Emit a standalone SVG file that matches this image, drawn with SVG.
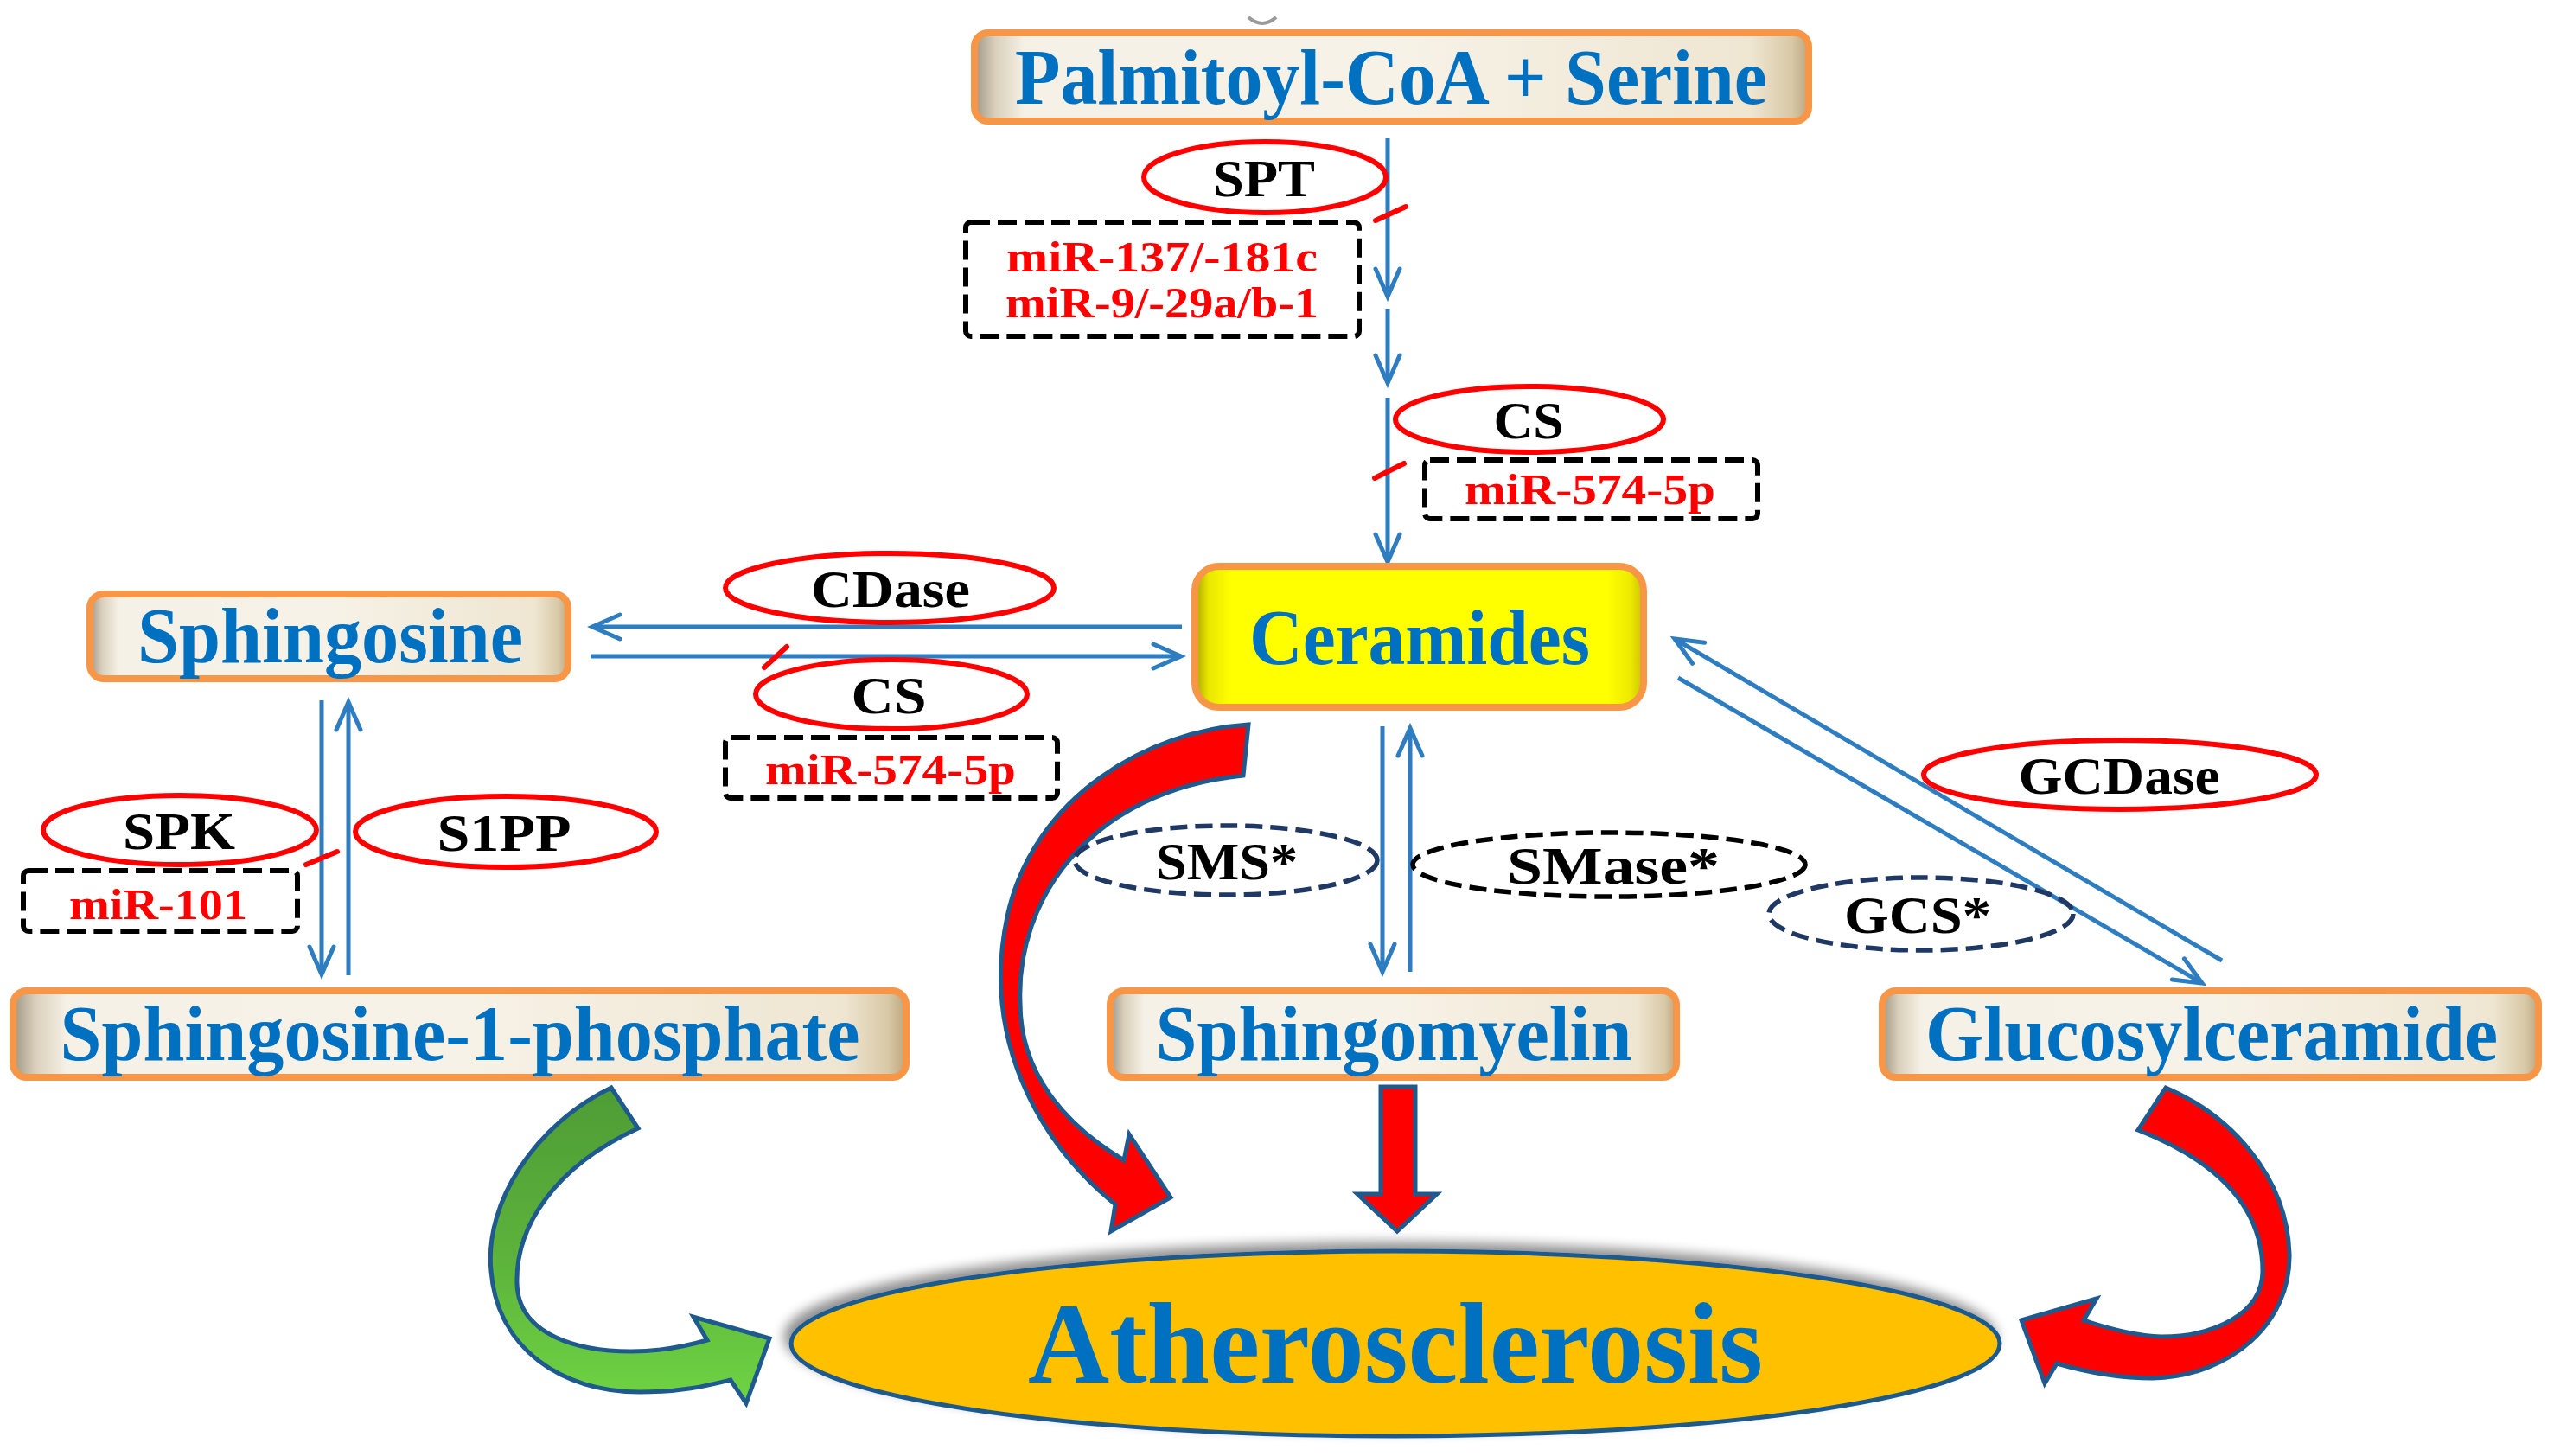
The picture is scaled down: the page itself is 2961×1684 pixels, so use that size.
<svg xmlns="http://www.w3.org/2000/svg" width="2961" height="1684" viewBox="0 0 2961 1684">
<defs>
<style>
.nt{font-family:"Liberation Serif","Times New Roman",serif;font-weight:bold;fill:#0070C0;text-anchor:middle;font-size:90px}
.et{font-family:"Liberation Serif","Times New Roman",serif;font-weight:bold;fill:#000;text-anchor:middle;font-size:62px}
.mt{font-family:"Liberation Serif","Times New Roman",serif;font-weight:bold;fill:#FF0000;text-anchor:middle;font-size:50px}
.box{fill:url(#tan);stroke:#F79646;stroke-width:8}
.enz{fill:none;stroke:#FF0000;stroke-width:6}
.dbox{fill:none;stroke:#000;stroke-width:6;stroke-dasharray:22 9}
.dell{fill:none;stroke-width:5.5;stroke-dasharray:20 9}
.navy{stroke:#1F3864}
.blk{stroke:#000}
.ln{fill:none;stroke:#2E7DC0;stroke-width:5}
.inh{stroke:#FF0000;stroke-width:6;stroke-linecap:round}
.big{stroke:#1F5A8E;stroke-width:5;stroke-linejoin:miter}
</style>
<linearGradient id="tan" x1="0" y1="0" x2="1" y2="0">
<stop offset="0" stop-color="#9E9684"/>
<stop offset="0.025" stop-color="#D9CFBB"/>
<stop offset="0.06" stop-color="#F6F1E6"/>
<stop offset="0.5" stop-color="#F7F2E7"/>
<stop offset="0.93" stop-color="#EFE6D2"/>
<stop offset="0.98" stop-color="#D8C8A6"/>
<stop offset="1" stop-color="#BCA57E"/>
</linearGradient>
<linearGradient id="yel" x1="0" y1="0" x2="1" y2="0">
<stop offset="0" stop-color="#A8A200"/>
<stop offset="0.03" stop-color="#E9E600"/>
<stop offset="0.08" stop-color="#FFFF00"/>
<stop offset="0.92" stop-color="#FFFF00"/>
<stop offset="0.97" stop-color="#EEEA00"/>
<stop offset="1" stop-color="#C8C000"/>
</linearGradient>
<linearGradient id="grn" x1="0" y1="0" x2="0" y2="1">
<stop offset="0" stop-color="#4E9C36"/>
<stop offset="0.55" stop-color="#5DB33B"/>
<stop offset="1" stop-color="#6FD443"/>
</linearGradient>
<filter id="sh" x="-5%" y="-20%" width="110%" height="140%">
<feGaussianBlur in="SourceAlpha" stdDeviation="7"/>
<feOffset dx="-6" dy="-8" result="b"/>
<feComponentTransfer><feFuncA type="linear" slope="0.45"/></feComponentTransfer>
<feMerge><feMergeNode/><feMergeNode in="SourceGraphic"/></feMerge>
</filter>
<marker id="ah" markerUnits="userSpaceOnUse" markerWidth="46" markerHeight="46" viewBox="-40 -23 46 46" refX="0" refY="0" orient="auto">
<path d="M-32,-14 L0,0 L-32,14" fill="none" stroke="#2E7DC0" stroke-width="5" stroke-linecap="round" stroke-linejoin="miter"/>
</marker>
</defs>
<rect width="2961" height="1684" fill="#FFFFFF"/>
<path d="M1444,20 Q1460,34 1476,20" fill="none" stroke="#9A9A9A" stroke-width="4"/>

<g id="connectors">
<line class="ln" x1="1605" y1="160" x2="1605" y2="343" marker-end="url(#ah)"/>
<line class="ln" x1="1605" y1="357" x2="1605" y2="443" marker-end="url(#ah)"/>
<line class="ln" x1="1605" y1="460" x2="1605" y2="650" marker-end="url(#ah)"/>
<line class="ln" x1="1367" y1="725" x2="685" y2="725" marker-end="url(#ah)"/>
<line class="ln" x1="683" y1="759" x2="1366" y2="759" marker-end="url(#ah)"/>
<line class="ln" x1="372" y1="810" x2="372" y2="1127" marker-end="url(#ah)"/>
<line class="ln" x1="403" y1="1128" x2="403" y2="812" marker-end="url(#ah)"/>
<line class="ln" x1="1599" y1="840" x2="1599" y2="1124" marker-end="url(#ah)"/>
<line class="ln" x1="1631" y1="1124" x2="1631" y2="842" marker-end="url(#ah)"/>
<line class="ln" x1="2570" y1="1111" x2="1937" y2="739" marker-end="url(#ah)"/>
<line class="ln" x1="1941" y1="784" x2="2547" y2="1137" marker-end="url(#ah)"/>
<line class="inh" x1="1591" y1="255" x2="1626" y2="239"/>
<line class="inh" x1="1590" y1="553" x2="1624" y2="536"/>
<line class="inh" x1="884" y1="772" x2="910" y2="748"/>
<line class="inh" x1="354" y1="1000" x2="390" y2="985"/>
<path class="big" fill="#FF0000" d="M1444,838 C1330,845 1195,920 1165,1060 C1135,1200 1200,1320 1290,1393 L1285,1424 L1354,1385 L1306,1312 L1300,1342 C1230,1300 1180,1240 1180,1160 C1175,1040 1260,915 1438,897 Z"/>
<path class="big" fill="#FF0000" d="M1597,1257 L1637,1257 L1637,1381 L1662,1381 L1616,1424 L1570,1381 L1597,1381 Z"/>
<path class="big" fill="url(#grn)" d="M707,1258 C620,1300 560,1390 568,1470 C575,1560 650,1610 740,1610 C790,1610 820,1602 845,1596 L863,1623 L890,1548 L802,1523 L818,1550 C790,1558 760,1563 730,1563 C670,1563 600,1545 598,1485 C596,1420 640,1350 738,1305 Z"/>
<path class="big" fill="#FF0000" d="M2505,1258 C2580,1290 2645,1360 2648,1450 C2650,1530 2580,1592 2490,1594 C2450,1594 2410,1586 2379,1577 L2365,1600 L2338,1527 L2425,1502 L2410,1527 C2440,1537 2470,1545 2500,1546 C2560,1546 2617,1520 2617,1470 C2617,1400 2570,1345 2473,1307 Z"/>
</g>

<g id="palmitoyl">
<rect class="box" x="1127" y="38" width="965" height="102" rx="16"/>
<text class="nt" x="1609" y="120" textLength="870" lengthAdjust="spacingAndGlyphs">Palmitoyl-CoA + Serine</text>
</g>
<g id="sphingosine">
<rect class="box" x="104" y="687" width="553" height="98" rx="16"/>
<text class="nt" x="382" y="766" textLength="446" lengthAdjust="spacingAndGlyphs">Sphingosine</text>
</g>
<g id="ceramides">
<rect x="1382" y="655" width="519" height="163" rx="28" fill="url(#yel)" stroke="#F79646" stroke-width="8"/>
<text class="nt" x="1642" y="768" textLength="394" lengthAdjust="spacingAndGlyphs">Ceramides</text>
</g>
<g id="s1p">
<rect class="box" x="15" y="1146" width="1033" height="100" rx="16"/>
<text class="nt" x="532" y="1226" textLength="925" lengthAdjust="spacingAndGlyphs">Sphingosine-1-phosphate</text>
</g>
<g id="sphingomyelin">
<rect class="box" x="1284" y="1146" width="655" height="100" rx="16"/>
<text class="nt" x="1612" y="1226" textLength="551" lengthAdjust="spacingAndGlyphs">Sphingomyelin</text>
</g>
<g id="glucosylceramide">
<rect class="box" x="2177" y="1146" width="759" height="100" rx="16"/>
<text class="nt" x="2558" y="1226" textLength="662" lengthAdjust="spacingAndGlyphs">Glucosylceramide</text>
</g>
<g id="atherosclerosis">
<ellipse cx="1614" cy="1554" rx="699" ry="107" fill="#FFC000" stroke="#1F5A8E" stroke-width="5" filter="url(#sh)"/>
<text class="nt" x="1614" y="1599" style="font-size:134px" textLength="850" lengthAdjust="spacingAndGlyphs">Atherosclerosis</text>
</g>

<g id="spt">
<ellipse class="enz" cx="1463" cy="205" rx="140" ry="41"/>
<text class="et" x="1462" y="227" textLength="118" lengthAdjust="spacingAndGlyphs">SPT</text>
</g>
<g id="mir-spt">
<rect class="dbox" x="1117" y="257" width="455" height="132" rx="6"/>
<text class="mt" x="1344" y="314" textLength="360" lengthAdjust="spacingAndGlyphs">miR-137/-181c</text>
<text class="mt" x="1344" y="367" textLength="362" lengthAdjust="spacingAndGlyphs">miR-9/-29a/b-1</text>
</g>
<g id="cs-top">
<ellipse class="enz" cx="1769" cy="485" rx="155" ry="38"/>
<text class="et" x="1768" y="507" textLength="81" lengthAdjust="spacingAndGlyphs">CS</text>
</g>
<g id="mir-cs-top">
<rect class="dbox" x="1648" y="532" width="385" height="68" rx="6"/>
<text class="mt" x="1839" y="583" textLength="290" lengthAdjust="spacingAndGlyphs">miR-574-5p</text>
</g>
<g id="cdase">
<ellipse class="enz" cx="1029" cy="680" rx="190" ry="40"/>
<text class="et" x="1030" y="702" textLength="184" lengthAdjust="spacingAndGlyphs">CDase</text>
</g>
<g id="cs-left">
<ellipse class="enz" cx="1031" cy="803" rx="157" ry="40"/>
<text class="et" x="1028" y="825" textLength="87" lengthAdjust="spacingAndGlyphs">CS</text>
</g>
<g id="mir-cs-left">
<rect class="dbox" x="839" y="853" width="384" height="70" rx="6"/>
<text class="mt" x="1030" y="907" textLength="290" lengthAdjust="spacingAndGlyphs">miR-574-5p</text>
</g>
<g id="spk">
<ellipse class="enz" cx="208" cy="960" rx="158" ry="40"/>
<text class="et" x="207" y="982" textLength="130" lengthAdjust="spacingAndGlyphs">SPK</text>
</g>
<g id="s1pp">
<ellipse class="enz" cx="585" cy="962" rx="174" ry="41"/>
<text class="et" x="583" y="984" textLength="155" lengthAdjust="spacingAndGlyphs">S1PP</text>
</g>
<g id="mir-spk">
<rect class="dbox" x="27" y="1007" width="317" height="70" rx="6"/>
<text class="mt" x="183" y="1063" textLength="206" lengthAdjust="spacingAndGlyphs">miR-101</text>
</g>
<g id="sms">
<ellipse class="dell navy" cx="1418" cy="995" rx="175" ry="40"/>
<text class="et" x="1419" y="1017" textLength="164" lengthAdjust="spacingAndGlyphs">SMS*</text>
</g>
<g id="smase">
<ellipse class="dell blk" cx="1861" cy="1000" rx="227" ry="37"/>
<text class="et" x="1866" y="1022" textLength="246" lengthAdjust="spacingAndGlyphs">SMase*</text>
</g>
<g id="gcs">
<ellipse class="dell navy" cx="2222" cy="1057" rx="176" ry="42"/>
<text class="et" x="2218" y="1079" textLength="170" lengthAdjust="spacingAndGlyphs">GCS*</text>
</g>
<g id="gcdase">
<ellipse class="enz" cx="2452" cy="896" rx="227" ry="40"/>
<text class="et" x="2451" y="918" textLength="233" lengthAdjust="spacingAndGlyphs">GCDase</text>
</g>
</svg>
